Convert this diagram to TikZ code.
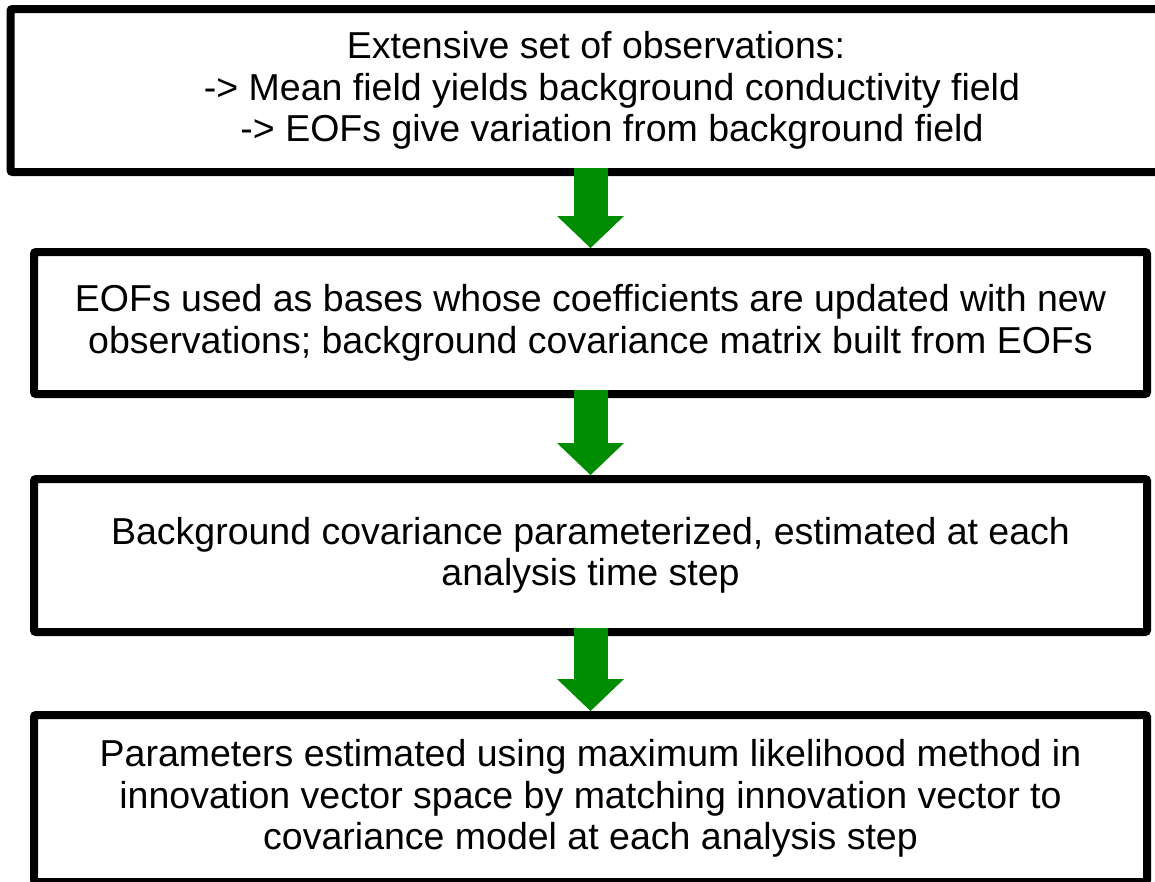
\documentclass[tikz,border=0pt]{standalone}
\usepackage{fontspec}
\setmainfont{Liberation Sans}
\usepackage{xcolor}
\usepackage{tikz}
\usetikzlibrary{arrows.meta, positioning, calc}

\definecolor{flowgreen}{RGB}{0,140,0}

\begin{document}
\begin{tikzpicture}[
    x=1pt, y=-1pt,
    stage/.style={rectangle, draw=black, line width=8pt, rounded corners=2pt, fill=white, align=center, inner sep=0pt, minimum width=1113pt, font=\fontsize{37.5}{41.5}\selectfont},
    flow/.style={draw=flowgreen, line width=34pt, shorten <=-8pt, -{Triangle[length=32pt, width=67pt, line width=0pt]}}
]

    % --- Canvas ---
    \useasboundingbox (0,0) rectangle (1155,881);
    \clip (0,0) rectangle (1155,881);

    % --- Stages ---

    % Observations
    \node[stage, minimum width=1203pt, minimum height=163pt] (obs) at (612,90.5)
        {Extensive set of observations:\hspace*{32pt}\\-> Mean field yields background conductivity field\\-> EOFs give variation from background field};

    % EOF bases
    \node[stage, minimum height=142pt, below=72pt of obs, xshift=-21.5pt] (eof-bases)
        {EOFs used as bases whose coefficients are updated with new\\observations; background covariance matrix built from EOFs};

    % Covariance parameters
    \node[stage, minimum height=153pt, below=77pt of eof-bases] (cov-param)
        {Background covariance parameterized, estimated at each\\analysis time step};

    % Maximum likelihood
    \node[stage, minimum height=167pt, below=75pt of cov-param] (max-lik)
        {Parameters estimated using maximum likelihood method in\\innovation vector space by matching innovation vector to\\covariance model at each analysis step};

    % --- Connections ---
    \draw[flow] (obs.south -| eof-bases.north) -- (eof-bases.north);
    \draw[flow] (eof-bases.south) -- (cov-param.north);
    \draw[flow] (cov-param.south) -- (max-lik.north);

\end{tikzpicture}
\end{document}
